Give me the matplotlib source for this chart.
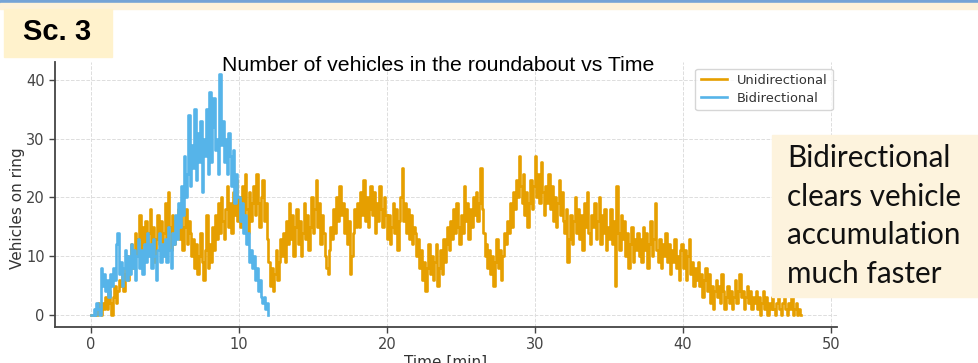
import matplotlib
matplotlib.use('Agg')
import numpy as np
import matplotlib.pyplot as plt
from matplotlib.patches import Rectangle

# vehicles on the ring, every 0.1 min
uni_vals = [
    0, 0, 0, 1, 0, 2, 1, 0, 2, 1,
    3, 1, 4, 2, 0, 3, 5, 2, 4, 6,
    5, 8, 4, 7, 10, 6, 9, 12, 8, 11,
    14, 10, 13, 17, 11, 15, 12, 16, 10, 14,
    18, 11, 15, 9, 13, 17, 12, 16, 10, 14,
    19, 13, 21, 15, 11, 17, 12, 16, 14, 18,
    13, 17, 11, 15, 18, 12, 16, 14, 10, 13,
    8, 12, 7, 10, 14, 9, 6, 11, 17, 8,
    12, 9, 15, 11, 17, 13, 19, 14, 20, 16,
    13, 18, 22, 15, 19, 14, 21, 17, 23, 16,
    20, 15, 22, 17, 24, 18, 14, 21, 16, 19,
    22, 17, 24, 19, 15, 20, 23, 16, 19, 13,
    9, 5, 8, 4, 7, 11, 6, 9, 13, 10,
    14, 9, 16, 12, 19, 13, 17, 10, 15, 18,
    12, 16, 10, 14, 19, 13, 17, 11, 15, 20,
    14, 18, 23, 15, 19, 12, 17, 14, 10, 8,
    7, 11, 15, 13, 18, 14, 20, 16, 22, 17,
    19, 14, 18, 12, 16, 7, 10, 14, 18, 15,
    19, 15, 21, 17, 23, 16, 20, 15, 18, 22,
    17, 21, 14, 19, 16, 22, 18, 15, 20, 17,
    13, 17, 12, 15, 19, 14, 18, 11, 16, 20,
    25, 16, 19, 14, 18, 13, 17, 12, 15, 14,
    10, 13, 8, 11, 6, 9, 4, 8, 12, 7,
    10, 6, 9, 12, 5, 8, 11, 7, 13, 9,
    12, 15, 11, 16, 13, 18, 14, 19, 15, 12,
    17, 14, 22, 16, 19, 13, 18, 15, 20, 17,
    21, 16, 19, 25, 18, 14, 10, 12, 8, 11,
    7, 10, 5, 9, 13, 8, 11, 6, 10, 14,
    12, 16, 14, 19, 15, 21, 18, 23, 20, 27,
    22, 19, 24, 17, 21, 15, 19, 23, 18, 22,
    27, 20, 24, 19, 26, 21, 17, 22, 19, 24,
    18, 22, 16, 20, 15, 19, 23, 17, 21, 16,
    14, 18, 9, 13, 17, 12, 16, 20, 14, 18,
    13, 17, 11, 19, 15, 21, 14, 12, 17, 15,
    19, 13, 16, 20, 12, 17, 14, 18, 11, 15,
    13, 18, 12, 16, 5, 22, 14, 11, 17, 13,
    16, 10, 14, 8, 12, 15, 9, 13, 11, 14,
    10, 13, 9, 15, 11, 14, 8, 12, 16, 10,
    13, 19, 11, 9, 13, 8, 12, 10, 14, 9,
    12, 7, 11, 9, 13, 8, 10, 6, 11, 12,
    8, 11, 6, 10, 13, 7, 9, 5, 8, 6,
    9, 5, 7, 3, 6, 8, 4, 7, 2, 5,
    1, 4, 6, 3, 5, 2, 7, 4, 1, 3,
    5, 2, 4, 1, 3, 6, 2, 4, 7, 3,
    4, 1, 3, 5, 2, 4, 1, 3, 2, 4,
    1, 3, 0, 2, 4, 1, 3, 0, 2, 1,
    3, 1, 0, 2, 4, 1, 0, 2, 3, 1,
    0, 2, 1, 3, 0, 1, 2, 0, 1, 0,
    0,
]
bi_vals = [
    0, 0, 1, 0, 2, 1, 0, 8, 5, 7,
    4, 6, 3, 7, 5, 8, 6, 12, 14, 7,
    9, 5, 8, 11, 6, 10, 7, 12, 8, 11,
    6, 10, 13, 8, 11, 7, 12, 9, 14, 10,
    12, 8, 13, 10, 6, 11, 14, 9, 12, 10,
    13, 9, 15, 11, 8, 14, 12, 17, 13, 19,
    15, 22, 17, 27, 20, 24, 34, 22, 29, 25,
    35, 23, 31, 26, 33, 21, 30, 27, 35, 24,
    38, 26, 32, 37, 28, 30, 24, 41, 29, 33,
    26, 30, 24, 31, 27, 22, 28, 19, 24, 20,
    20, 16, 19, 14, 17, 12, 14, 9, 11, 8,
    10, 6, 8, 4, 6, 3, 2, 3, 1, 2,
    0,
]
uni_t = np.arange(len(uni_vals)) * 0.1
bi_t = np.arange(len(bi_vals)) * 0.1

fig = plt.figure(figsize=(9.79, 3.63), dpi=100)
W, H = 979.0, 363.0

# slide decorations: top border and the two note boxes
fig.patches.append(Rectangle((0, 1 - 3/H), 1, 3/H, transform=fig.transFigure,
                             color='#74a3d6', zorder=0))
fig.patches.append(Rectangle((0, 1 - 9/H), 1, 6/H, transform=fig.transFigure,
                             color='#fdf2da', zorder=0))
fig.patches.append(Rectangle((4/W, 1 - 57/H), 108/W, 48/H, transform=fig.transFigure,
                             color='#fff2cc', zorder=0))
fig.text(57/W, 1 - 40/H, 'Sc. 3', ha='center', va='baseline', fontsize=21,
         fontweight='bold', family='Liberation Sans')

ax = fig.add_axes([55/W, 36/H, 782/W, 265/H])
ax.step(uni_t, uni_vals, where='post', color='#E69F00', lw=1.9, label='Unidirectional')
ax.step(bi_t, bi_vals, where='post', color='#56B4E9', lw=1.9, label='Bidirectional')

ax.set_xlim(-2.4, 50.4)
ax.set_ylim(-2.05, 43.05)
ax.set_xticks([0, 10, 20, 30, 40, 50])
ax.set_yticks([0, 10, 20, 30, 40])
ax.grid(True, color='#dddddd', ls='--', lw=0.7)
ax.set_axisbelow(True)
for s in ['top', 'right']:
    ax.spines[s].set_visible(False)
for s in ['left', 'bottom']:
    ax.spines[s].set_color('#444444')
    ax.spines[s].set_linewidth(1.3)
ax.tick_params(direction='out', length=4, width=1, colors='#444444', labelsize=10.5)
ax.set_xlabel('Time [min]', fontsize=11, color='#333333', labelpad=2)
ax.set_ylabel('Vehicles on ring', fontsize=11, color='#333333')
ax.yaxis.set_label_coords(-0.038, 0.449)

leg = ax.legend(loc='upper right', fontsize=9.4, frameon=True, fancybox=True,
                bbox_to_anchor=(1.0, 0.99), borderaxespad=0.3, labelspacing=0.4)
leg.get_frame().set_edgecolor('#cccccc')
for t in leg.get_texts():
    t.set_color('#333333')

fig.text(438/W, 1 - 71/H, 'Number of vehicles in the roundabout vs Time',
         ha='center', va='baseline', fontsize=15.3, family='Liberation Sans')

# right hand note
fig.patches.append(Rectangle((772/W, 1 - 297/H), 207/W, 162/H, transform=fig.transFigure,
                             color='#fdf3dd', zorder=3))
note = ['Bidirectional', 'clears vehicle', 'accumulation', 'much faster']
for i, line in enumerate(note):
    fig.text(787/W, 1 - (167 + 38.7*i)/H, line, ha='left', va='baseline',
             fontsize=21.3, family='Lato', color='#111111', zorder=4)

plt.savefig('out.png', dpi=100)
